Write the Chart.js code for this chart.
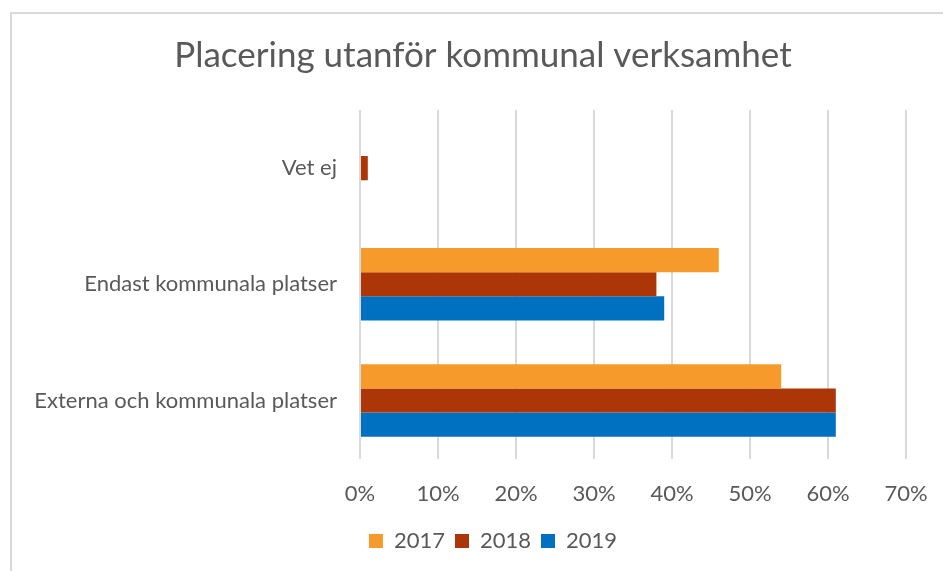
<!DOCTYPE html>
<html>
<head>
<meta charset="utf-8">
<script src="https://cdn.jsdelivr.net/npm/chart.js@4"></script>
<style>
  html, body { margin: 0; padding: 0; background: #fff; }
  #wrap { position: relative; width: 943px; height: 571px; }
  #frame { position: absolute; left: 10px; top: 12px; right: -5px; bottom: -5px;
           border-left: 2px solid #d9d9d9; border-top: 2px solid #d9d9d9; }
  canvas { position: absolute; left: 0; top: 0; }
</style>
</head>
<body>
<div id="wrap">
  <div id="frame"></div>
  <canvas id="myChart" width="943" height="571"></canvas>
</div>
<script>
// categories, top to bottom
const categories = ['Vet ej', 'Endast kommunala platser', 'Externa och kommunala platser'];
const years = ['2017', '2018', '2019'];

// share of answers (%), one array per year
const values2017 = [0, 46, 54];
const values2018 = [1, 38, 61];
const values2019 = [0, 39, 61];

const colors = ['#F59A2B', '#AD3609', '#0070C0'];
const textColor = '#595959';
const fontName = 'Lato, "Open Sans", sans-serif';

// the original chart is wider than the picture, so title and legend sit right of centre
const shiftBlocks = {
  id: 'shiftBlocks',
  afterLayout(chart) {
    chart.titleBlock.left += 30;
    chart.titleBlock.right += 30;
    chart.legend.left += 40;
    chart.legend.right += 40;
  }
};

const locationOfChart = document.getElementById('myChart');

new Chart(locationOfChart, {
  type: 'bar',
  data: {
    labels: categories,
    datasets: [
      { label: years[0], data: values2017, backgroundColor: colors[0] },
      { label: years[1], data: values2018, backgroundColor: colors[1] },
      { label: years[2], data: values2019, backgroundColor: colors[2] }
    ]
  },
  options: {
    indexAxis: 'y',
    responsive: false,
    animation: false,
    datasets: {
      bar: { barPercentage: 1, categoryPercentage: 0.623 }
    },
    layout: { padding: { left: 0, right: 37, top: 0, bottom: 9 } },
    scales: {
      x: {
        min: 0,
        max: 70,
        ticks: {
          stepSize: 10,
          padding: 22,
          color: textColor,
          font: { family: fontName, size: 22 },
          callback: v => v + '%'
        },
        grid: { color: '#d9d9d9', lineWidth: 2, drawTicks: false },
        border: { display: false },
        afterFit: scale => {
          scale.height -= 9;
          scale.paddingRight = 0;
        }
      },
      y: {
        ticks: {
          padding: 23,
          color: textColor,
          font: { family: fontName, size: 22 }
        },
        grid: { display: false, drawTicks: false },
        border: { display: false },
        afterFit: scale => { scale.width = 360; }
      }
    },
    plugins: {
      title: {
        display: true,
        text: 'Placering utanför kommunal verksamhet',
        color: textColor,
        font: { family: fontName, size: 35, weight: 'normal' },
        padding: { top: 35, bottom: 33 }
      },
      legend: {
        position: 'bottom',
        labels: {
          boxWidth: 14,
          boxHeight: 14,
          padding: 10,
          color: textColor,
          font: { family: fontName, size: 22 }
        }
      },
      tooltip: { enabled: false }
    }
  },
  plugins: [shiftBlocks]
});
</script>
</body>
</html>
